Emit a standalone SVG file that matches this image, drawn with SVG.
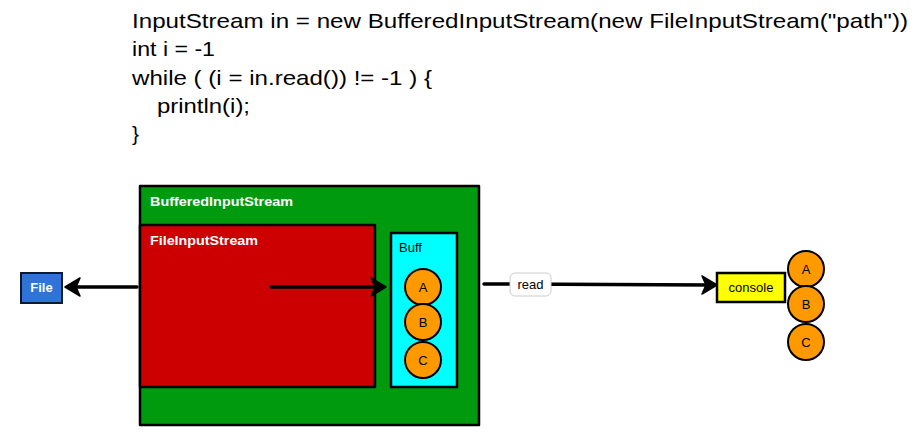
<svg xmlns="http://www.w3.org/2000/svg" width="923" height="442" viewBox="0 0 923 442">
<style>
.code{font-family:"Liberation Sans",Arial,sans-serif;font-size:21px;fill:#000}
.lbl{font-family:"Liberation Sans",Arial,sans-serif;font-size:13px;fill:#fff;font-weight:bold}
.blk{font-family:"Liberation Sans",Arial,sans-serif;font-size:13px;fill:#000}
.box{stroke:#000;stroke-width:2.5;stroke-linejoin:round}
.circ{fill:#ff9900;stroke:#000;stroke-width:2}
.conn{stroke:#000;stroke-width:3.5;stroke-linecap:round;fill:none}
.head{fill:#000;stroke:#000;stroke-width:1.5;stroke-linejoin:round}
</style>
<rect width="923" height="442" fill="#fff"/>
<g id="code">
<text class="code" x="132" y="28" textLength="776" lengthAdjust="spacingAndGlyphs">InputStream in = new BufferedInputStream(new FileInputStream("path"))</text>
<text class="code" x="132" y="56" textLength="83" lengthAdjust="spacingAndGlyphs">int i = -1</text>
<text class="code" x="132" y="85" textLength="300" lengthAdjust="spacingAndGlyphs">while ( (i = in.read()) != -1 ) {</text>
<text class="code" x="157" y="113" textLength="93" lengthAdjust="spacingAndGlyphs">println(i);</text>
<text class="code" x="132" y="141">}</text>
</g>
<g id="bufferedinputstream">
<rect class="box" x="140" y="186" width="339" height="239" fill="#009a0e"/>
<text class="lbl" x="150" y="206" textLength="143" lengthAdjust="spacingAndGlyphs">BufferedInputStream</text>
</g>
<g id="fileinputstream">
<rect class="box" x="140" y="225" width="235" height="162" fill="#cc0000"/>
<text class="lbl" x="150" y="245" textLength="108" lengthAdjust="spacingAndGlyphs">FileInputStream</text>
</g>
<g id="buff">
<rect class="box" x="391" y="233" width="66" height="154" fill="#00ffff"/>
<text class="blk" x="399" y="252">Buff</text>
<circle class="circ" cx="423" cy="287" r="18"/>
<text class="blk" x="423" y="292" text-anchor="middle">A</text>
<circle class="circ" cx="423" cy="322" r="18"/>
<text class="blk" x="423" y="327" text-anchor="middle">B</text>
<circle class="circ" cx="423" cy="360" r="18"/>
<text class="blk" x="423" y="365" text-anchor="middle">C</text>
</g>
<g id="file">
<rect x="21" y="273" width="41" height="30" fill="#2f72d8" stroke="#0d1a33" stroke-width="2"/>
<text class="lbl" x="41.5" y="292" text-anchor="middle" font-size="14">File</text>
</g>
<g id="console">
<rect x="717" y="273" width="68" height="29" fill="#ffff00" stroke="#000" stroke-width="2.5"/>
<text class="blk" x="751" y="292" text-anchor="middle">console</text>
</g>
<g id="output">
<circle class="circ" cx="806" cy="269" r="18"/>
<text class="blk" x="806" y="274" text-anchor="middle">A</text>
<circle class="circ" cx="806" cy="304" r="18"/>
<text class="blk" x="806" y="309" text-anchor="middle">B</text>
<circle class="circ" cx="806" cy="342" r="18"/>
<text class="blk" x="806" y="347" text-anchor="middle">C</text>
</g>
<g id="connectors">
<line class="conn" x1="137" y1="287" x2="70" y2="287"/>
<path class="head" d="M65,287 L80,278 L76,287 L80,296 Z"/>
<line class="conn" x1="271" y1="287" x2="378" y2="287"/>
<path class="head" d="M386,287 L371,278 L375,287 L371,296 Z"/>
<line class="conn" x1="484" y1="284" x2="710" y2="285"/>
<path class="head" d="M717,285 L702,276 L706,285 L702,294 Z"/>
<rect x="510" y="273" width="41" height="23" rx="5" fill="#fff" stroke="#cccccc" stroke-width="1"/>
<text class="blk" x="530.5" y="289" text-anchor="middle">read</text>
</g>
</svg>
